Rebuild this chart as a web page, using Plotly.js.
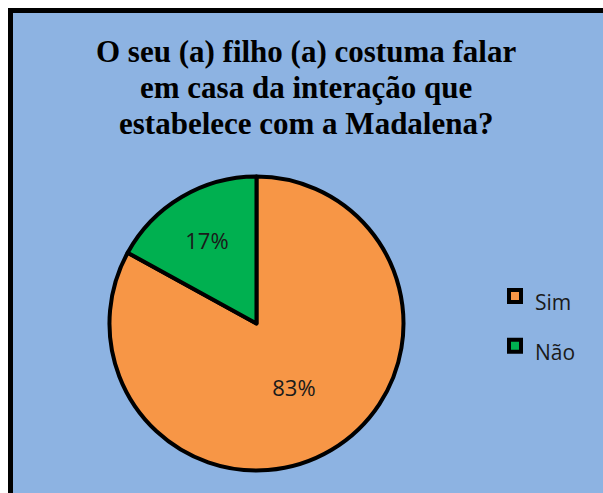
<!DOCTYPE html>
<html>
<head>
<meta charset="utf-8">
<script src="https://cdn.plot.ly/plotly-3.0.1.min.js"></script>
<style>
  html, body { margin: 0; padding: 0; background: #ffffff; overflow: hidden; width: 603px; height: 493px; }
  #frame { position: absolute; left: 8px; top: 8px; border-left: 5px solid #000; border-top: 5px solid #000; width: 600px; height: 490px; }
  #chart { width: 600px; height: 490px; }
</style>
</head>
<body>
<div id="frame"><div id="chart"></div></div>
<script>
// Data
const categories = ["Sim", "Não"];
const values = [83, 17];
const sliceColors = ["#F79646", "#00B050"];
const titleLines = [
  "O seu (a) filho (a) costuma falar",
  "em casa da interação que",
  "estabelece com a Madalena?"
];

const bg = "#8DB3E2";
const W = 600, H = 490;

const legendLabels = categories.map(c => '<span style="font-size:21px">' + c + '</span>');

const trace = {
  type: "pie",
  labels: legendLabels,
  values: values,
  sort: false,
  direction: "clockwise",
  rotation: 0,
  marker: { colors: sliceColors, line: { color: "#000000", width: 4 } },
  texttemplate: "%{percent:.0%}",
  textposition: "inside",
  insidetextorientation: "horizontal",
  textfont: { family: "Open Sans, sans-serif", size: 22, color: "#1a1a1a" },
  hoverinfo: "none",
  domain: { x: [0.1608, 0.6508], y: [0.0663, 0.6663] }
};

const annotations = titleLines.map((t, i) => ({
  text: "<b>" + t + "</b>",
  xref: "paper", yref: "paper",
  x: 293 / W, y: 1 - (38.5 + i * 36) / H,
  xanchor: "center", yanchor: "middle",
  showarrow: false,
  font: { family: "Liberation Serif, Times New Roman, serif", size: 31, color: "#000000" }
}));

const layout = {
  width: W, height: H,
  margin: { l: 0, r: 0, t: 0, b: 0 },
  paper_bgcolor: bg,
  plot_bgcolor: bg,
  showlegend: true,
  legend: {
    x: 482 / W, y: 1 - 253 / H,
    xanchor: "left", yanchor: "top",
    bgcolor: "rgba(0,0,0,0)",
    font: { family: "Open Sans, sans-serif", size: 36, color: "#1a1a1a" },
    itemclick: false, itemdoubleclick: false
  },
  annotations: annotations
};

Plotly.newPlot("chart", [trace], layout, { displayModeBar: false, staticPlot: true });
</script>
</body>
</html>
